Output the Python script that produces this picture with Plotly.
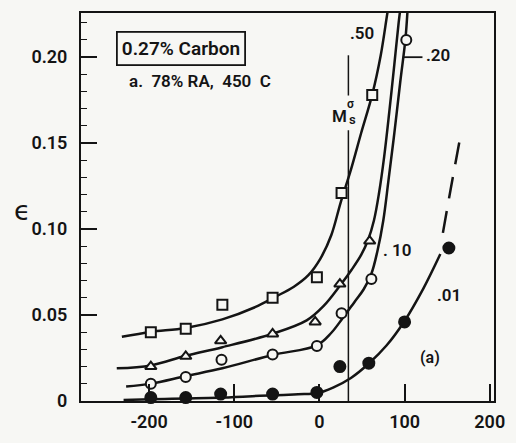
import plotly.graph_objects as go

# Measured points (temperature in C, strain epsilon) for each stress level
sq_x = [-198, -157, -114, -55, -3, 26, 62]
sq_y = [0.040, 0.042, 0.056, 0.060, 0.072, 0.121, 0.178]

tri_x = [-198, -157, -116, -55, -5, 24, 59]
tri_y = [0.020, 0.026, 0.035, 0.039, 0.046, 0.068, 0.093]

circ_x = [-198, -157, -115, -55, -3, 26, 61, 102]
circ_y = [0.010, 0.014, 0.024, 0.027, 0.032, 0.051, 0.071, 0.210]

dot_x = [-198, -157, -116, -55, -3, 24, 58, 100, 152]
dot_y = [0.002, 0.002, 0.004, 0.004, 0.005, 0.020, 0.022, 0.046, 0.089]

# Hand-faired curves through the data
c50_x = [-232, -198, -157, -114, -75, -53, -30, -13, 1, 14, 25, 37, 49, 62, 72, 80, 82]
c50_y = [0.0374, 0.0402, 0.0425, 0.0475, 0.0547, 0.0603, 0.0665, 0.0732, 0.0827,
         0.0966, 0.1156, 0.1346, 0.1559, 0.1782, 0.2011, 0.2263, 0.2318]

c10_x = [-238, -198, -157, -114, -55, -15, 5, 24, 38, 49, 57, 64, 70, 76, 82, 88, 93, 96]
c10_y = [0.019, 0.0207, 0.0263, 0.0313, 0.0391, 0.0469, 0.0553, 0.067, 0.0765,
         0.0850, 0.0935, 0.1050, 0.1210, 0.1420, 0.1680, 0.1960, 0.2200, 0.2318]

c20_x = [-227, -198, -157, -114, -55, -3, 14, 27, 41, 52, 61, 68, 75, 81, 88, 95, 101, 104]
c20_y = [0.0084, 0.0101, 0.0145, 0.019, 0.0268, 0.0324, 0.0397, 0.048, 0.0575,
         0.0650, 0.0740, 0.0870, 0.1050, 0.1280, 0.1560, 0.1860, 0.2106, 0.2318]

c01_x = [-230, -198, -114, -55, -18, -3, 16, 37, 58, 79, 99, 122, 142]
c01_y = [0.0006, 0.001, 0.002, 0.0034, 0.0040, 0.0045, 0.0078, 0.0134, 0.0218,
         0.0324, 0.0458, 0.0654, 0.0855]

c01_ext_x = [145, 154, 165]
c01_ext_y = [0.0978, 0.1229, 0.1525]

MS_TEMP = 34  # M_s^sigma temperature

x_ticks = [-200, -100, 0, 100, 200]
x_tick_text = ["-200", "-100", "0", "100", "200"]
y_ticks = [0, 0.05, 0.10, 0.15, 0.20]
y_tick_text = ["0", "0.05", "0.10", "0.15", "0.20"]

FONT = "Roboto, Liberation Sans, sans-serif"
INK = "#141414"
BG = "#f7f7f4"

fig = go.Figure()

def curve(xs, ys, dash="solid"):
    fig.add_trace(go.Scatter(x=xs, y=ys, mode="lines",
                             line=dict(color=INK, width=2.5, shape="spline",
                                       smoothing=1.0, dash=dash),
                             hoverinfo="skip", showlegend=False))

curve(c50_x, c50_y)
curve(c10_x, c10_y)
curve(c20_x, c20_y)
curve(c01_x, c01_y)
curve(c01_ext_x, c01_ext_y, dash="22px,13px")

def pts(xs, ys, symbol, fill, size=10):
    fig.add_trace(go.Scatter(x=xs, y=ys, mode="markers", cliponaxis=False,
                             marker=dict(symbol=symbol, size=size, color=fill,
                                         line=dict(color=INK, width=2)),
                             showlegend=False))

pts(sq_x, sq_y, "square", BG)
pts(tri_x, tri_y, "triangle-up", BG)
pts(circ_x, circ_y, "circle", BG)
pts(dot_x, dot_y, "circle", INK, size=11)

# M_s^sigma marker line, broken around its label
fig.add_shape(type="line", x0=MS_TEMP, x1=MS_TEMP, y0=0, y1=0.1575,
              line=dict(color=INK, width=1.5))
fig.add_shape(type="line", x0=MS_TEMP, x1=MS_TEMP, y0=0.1777, y1=0.2011,
              line=dict(color=INK, width=1.5))

# leader from the .20 label to its curve
fig.add_shape(type="line", x0=98, x1=121, y0=0.2, y1=0.2,
              line=dict(color=INK, width=1.8))

W = 600

def label(x, y, text, size=17, **kw):
    fig.add_annotation(x=x, y=y, xref="x", yref="y", text=text, showarrow=False,
                       font=dict(family=FONT, size=size, color=INK, weight=W), **kw)

label(50, 0.214, ".50")
label(139, 0.201, ".20")
label(91, 0.0877, ". 10")
label(152, 0.0615, ".01")
label(130, 0.0251, "(a)", size=16)
label(23, 0.166, "M", size=17)
label(37, 0.1725, "σ", size=12)
label(38.5, 0.1635, "s", size=13)

fig.add_annotation(x=-162, y=0.205, xref="x", yref="y", text="0.27% Carbon",
                   showarrow=False, bordercolor=INK, borderwidth=1.8, borderpad=4,
                   font=dict(family=FONT, size=19, color=INK, weight=W))
fig.add_annotation(x=-226, y=0.186, xref="x", yref="y", text="a.  78% RA,  450  C",
                   showarrow=False, xanchor="left",
                   font=dict(family=FONT, size=17, color=INK, weight=W))

fig.add_annotation(x=-0.168, y=0.49, xref="paper", yref="paper", text="ϵ",
                   showarrow=False, font=dict(family="DejaVu Sans", size=27, color=INK))

tickfont = dict(family=FONT, size=18, color=INK, weight=W)

fig.update_layout(
    width=516, height=443,
    margin=dict(l=81, r=11, t=11, b=28),
    paper_bgcolor=BG, plot_bgcolor=BG,
    xaxis=dict(range=[-280, 205], tickvals=x_ticks, ticktext=x_tick_text,
               ticks="inside", ticklen=17, tickwidth=1.5, tickcolor=INK,
               showline=True, linewidth=2, linecolor=INK, mirror=True,
               showgrid=False, zeroline=False, tickfont=tickfont,
               ticklabelstandoff=3),
    yaxis=dict(range=[0, 0.2257], tickvals=y_ticks, ticktext=y_tick_text,
               ticks="inside", ticklen=16, tickwidth=1.5, tickcolor=INK,
               showline=True, linewidth=2, linecolor=INK, mirror=True,
               showgrid=False, zeroline=False, tickfont=tickfont,
               ticklabelstandoff=8,
               minor=dict(dtick=0.01, tick0=0, ticks="inside", ticklen=6,
                          tickwidth=1.3, tickcolor=INK, showgrid=False)),
)

fig.write_html("out.html")
